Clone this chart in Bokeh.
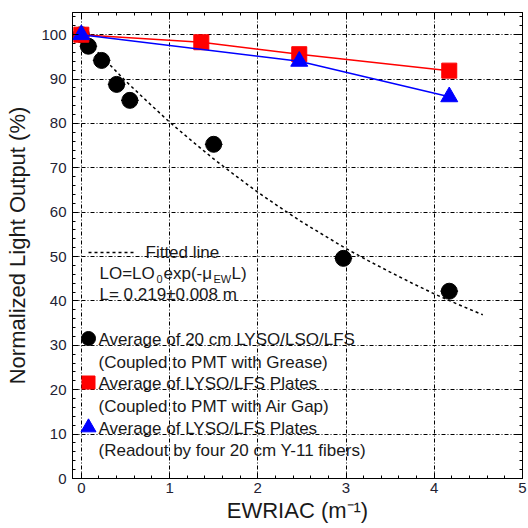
from bokeh.plotting import figure
from bokeh.models import (Range1d, SingleIntervalTicker, LinearAxis, Label, ColumnDataSource,
                          CustomJSTickFormatter)
from bokeh.embed import file_html
from bokeh.resources import INLINE

# ---------------- data ----------------
# Average of 20 cm LYSO/LSO/LFS (black circles)
circ_x = [0.0, 0.08, 0.23, 0.40, 0.55, 1.50, 2.97, 4.17]
circ_y = [100.0, 97.4, 94.2, 88.8, 85.2, 75.3, 49.6, 42.2]
circ_xerr = [0.1, 0.1, 0.1, 0.1, 0.1, 0.1, 0.1, 0.1]

# Average of LYSO/LFS plates, PMT with air gap (red squares)
sq_x = [0.0, 1.36, 2.47, 4.17]
sq_y = [100.0, 98.3, 95.6, 91.9]

# Average of LYSO/LFS plates, Y-11 fibre readout (blue triangles)
tri_x = [0.0, 2.47, 4.17]
tri_y = [100.0, 94.0, 86.0]

# Fitted line LO = LO0 exp(-mu_EW L), L = 0.219 m
fit_x = [0.0, 0.25, 0.5, 0.75, 1.0, 1.25, 1.5, 1.75, 2.0, 2.25, 2.5, 2.75,
         3.0, 3.25, 3.5, 3.75, 4.0, 4.25, 4.5, 4.55]
fit_y = [100.0, 94.7, 89.6, 84.9, 80.3, 76.1, 72.0, 68.2, 64.5, 61.1, 57.8, 54.8,
         51.8, 49.1, 46.5, 44.0, 41.6, 39.4, 37.3, 36.9]

x_label = "EWRIAC (m\u207b\u00b9)"
y_label = "Normalized Light Output (%)"
leg_fit = "Fitted line"
leg_fit_L = "L= 0.219\u00b10.008 m"
leg_circ = ["Average of 20 cm LYSO/LSO/LFS", "(Coupled to PMT with Grease)"]
leg_sq = ["Average of LYSO/LFS Plates", "(Coupled to PMT with Air Gap)"]
leg_tri = ["Average of LYSO/LFS Plates", "(Readout by four 20 cm Y-11 fibers)"]

# ---------------- layout ----------------
FL, FT, FW, FH = 72, 12, 450, 466
X0, X1, Y0, Y1 = -0.1, 5.0, 0.0, 105.0


def dx(px):
    return X0 + (px - FL) / FW * (X1 - X0)


def dy(py):
    return Y0 + (FT + FH - py) / FH * (Y1 - Y0)


FONT = "Liberation Sans"
TXT = "#1a1a1a"

p = figure(width=528, height=528, x_range=Range1d(X0, X1), y_range=Range1d(Y0, Y1),
           output_backend="svg", toolbar_location=None,
           min_border_left=FL, min_border_right=528 - FL - FW,
           min_border_top=FT, min_border_bottom=528 - FT - FH)
p.background_fill_color = "white"
p.border_fill_color = "white"
p.outline_line_color = "black"
p.outline_line_width = 1

for ax in p.xaxis:
    ax.ticker = SingleIntervalTicker(interval=1, num_minor_ticks=5)
for ax in p.yaxis:
    ax.ticker = SingleIntervalTicker(interval=10, num_minor_ticks=5)

p.xaxis.axis_label = x_label
p.yaxis.axis_label = y_label
for ax in list(p.xaxis) + list(p.yaxis):
    ax.axis_label_text_font = FONT
    ax.axis_label_text_font_size = "22px"
    ax.axis_label_text_font_style = "normal"
    ax.axis_label_text_color = TXT
    ax.major_label_text_font = FONT
    ax.major_label_text_font_size = "15px"
    ax.major_label_text_color = "#222233"
    ax.major_tick_in = 6
    ax.major_tick_out = 0
    ax.minor_tick_in = 3
    ax.minor_tick_out = 0
    ax.axis_line_color = "black"
    ax.major_tick_line_color = "black"
    ax.minor_tick_line_color = "black"
p.xaxis.major_label_standoff = 4
p.xaxis.axis_label_standoff = 2
p.yaxis.major_label_standoff = 6
p.yaxis.axis_label_standoff = 8

# mirrored axes (ticks only)
blank = CustomJSTickFormatter(code="return ''")
top = LinearAxis(ticker=SingleIntervalTicker(interval=1, num_minor_ticks=5),
                 formatter=blank, major_label_text_font_size="1px", major_label_standoff=0,
                 major_tick_in=6, major_tick_out=0, minor_tick_in=3, minor_tick_out=0)
right = LinearAxis(ticker=SingleIntervalTicker(interval=10, num_minor_ticks=5),
                   formatter=CustomJSTickFormatter(code="return ''"),
                   major_label_text_font_size="1px", major_label_standoff=0,
                   major_tick_in=6, major_tick_out=0, minor_tick_in=3, minor_tick_out=0)
p.add_layout(top, "above")
p.add_layout(right, "right")

for g in (p.xgrid, p.ygrid):
    g.grid_line_color = "black"
    g.grid_line_dash = "4 2 1 2"
    g.grid_line_width = 1

# ---------------- data marks ----------------
p.line(fit_x, fit_y, line_color="black", line_dash="3 3", line_width=1.5)

src = ColumnDataSource(dict(x=circ_x, y=circ_y,
                            lo=[a - e for a, e in zip(circ_x, circ_xerr)],
                            hi=[a + e for a, e in zip(circ_x, circ_xerr)]))
p.segment(x0="lo", y0="y", x1="hi", y1="y", source=src, line_color="black", line_width=1.2)
p.scatter("x", "y", source=src, marker="circle", size=16, fill_color="black", line_color="black")

p.line(sq_x, sq_y, line_color="red", line_width=1.5)
p.scatter(sq_x, sq_y, marker="square", size=15, fill_color="red", line_color="red")

p.line(tri_x, tri_y, line_color="blue", line_width=1.5)
p.scatter(tri_x, tri_y, marker="triangle", size=17, fill_color="blue", line_color="blue")

# ---------------- legend block ----------------
FS = "17px"
SUB = "11px"


def lab(px, py, text, size=FS):
    p.add_layout(Label(x=dx(px), y=dy(py), text=text, text_font=FONT, text_font_size=size,
                       text_color=TXT, text_baseline="middle", text_align="left"))


# fitted line
p.line([dx(88), dx(133)], [dy(252), dy(252)], line_color="black", line_dash="3 3", line_width=1.5)
lab(145, 252, leg_fit)
# LO=LO0exp(-mu_EW L)
lab(99, 273, "LO=LO")
lab(156, 278, "0", SUB)
lab(163, 273, "exp(-\u03bc")
lab(213, 278, "EW", SUB)
lab(231, 273, "L)")
lab(99, 294, leg_fit_L)

# markers
p.scatter([dx(88)], [dy(338)], marker="circle", size=14, fill_color="black", line_color="black")
lab(98, 339, leg_circ[0])
lab(98, 362, leg_circ[1])
p.scatter([dx(88)], [dy(382)], marker="square", size=13, fill_color="red", line_color="red")
lab(98, 383, leg_sq[0])
lab(98, 406, leg_sq[1])
p.scatter([dx(88)], [dy(427)], marker="triangle", size=15, fill_color="blue", line_color="blue")
lab(98, 428, leg_tri[0])
lab(98, 450, leg_tri[1])

open("out.html", "w").write(file_html(p, INLINE))
